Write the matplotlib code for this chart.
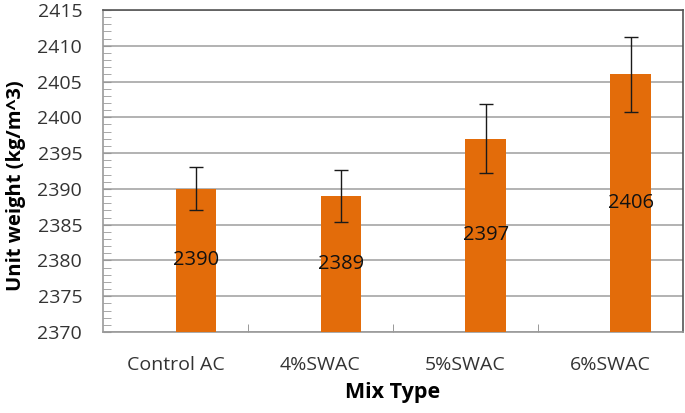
import matplotlib
matplotlib.use("Agg")
import matplotlib.pyplot as plt
import numpy as np
from matplotlib.ticker import MultipleLocator

plt.rcParams['font.family'] = ['Open Sans', 'DejaVu Sans']

mix_types = ["Control AC", "4%SWAC", "5%SWAC", "6%SWAC"]
unit_weight = [2390, 2389, 2397, 2406]
error = [3.0, 3.6, 4.8, 5.2]

ymin, ymax = 2370, 2415
bar_color = "#E36C0A"

fig = plt.figure(figsize=(6.85, 4.13), dpi=100)
ax = fig.add_axes([103 / 685, 81 / 413, 580 / 685, 322 / 413])

x = np.arange(len(mix_types))
width = 0.28
# bars sit right of the category centre (second series of the cluster is empty)
bars = ax.bar(x + width / 2, [v - ymin for v in unit_weight], width,
              bottom=ymin, color=bar_color, zorder=3)
ax.errorbar(x + width / 2, unit_weight, yerr=error, fmt="none",
            ecolor="#1a1a1a", elinewidth=1, capsize=5, capthick=1, zorder=4)

for xi, v in zip(x, unit_weight):
    ax.text(xi + width / 2, (v + ymin) / 2, str(v), ha="center", va="center",
            fontsize=14.5, color="#111111", zorder=5)

ax.set_xlim(-0.5, len(mix_types) - 0.5)
ax.set_ylim(ymin, ymax)
ax.yaxis.set_major_locator(MultipleLocator(5))
ax.yaxis.set_minor_locator(MultipleLocator(1))
ax.grid(axis="y", which="major", color="#A6A6A6", linewidth=1.2, zorder=0)

ax.set_xticks(x)
ax.set_xticklabels(mix_types)
ax.set_xticks(np.arange(0.5, len(mix_types) - 1, 1), minor=True)
ax.tick_params(axis="x", which="major", length=0, pad=17, labelsize=14, labelcolor="#333333")
ax.tick_params(axis="x", which="minor", length=6, direction="in", color="#888888")
ax.tick_params(axis="y", which="both", direction="in", color="#999999", labelsize=14,
               labelcolor="#333333", pad=15)
ax.tick_params(axis="y", which="major", length=6)
ax.tick_params(axis="y", which="minor", length=6)

for side in ["left", "bottom"]:
    ax.spines[side].set_color("#999999")
    ax.spines[side].set_linewidth(1.2)
for side in ["top", "right"]:
    ax.spines[side].set_color("#555555")
    ax.spines[side].set_linewidth(1.2)

ax.set_ylabel("Unit weight (kg/m^3)", fontsize=14.5, fontweight="bold")
ax.yaxis.set_label_coords(-0.133, 0.455)
ax.set_xlabel("Mix Type", fontsize=15.5, fontweight="bold", labelpad=6)

fig.savefig("out.png", dpi=100)
